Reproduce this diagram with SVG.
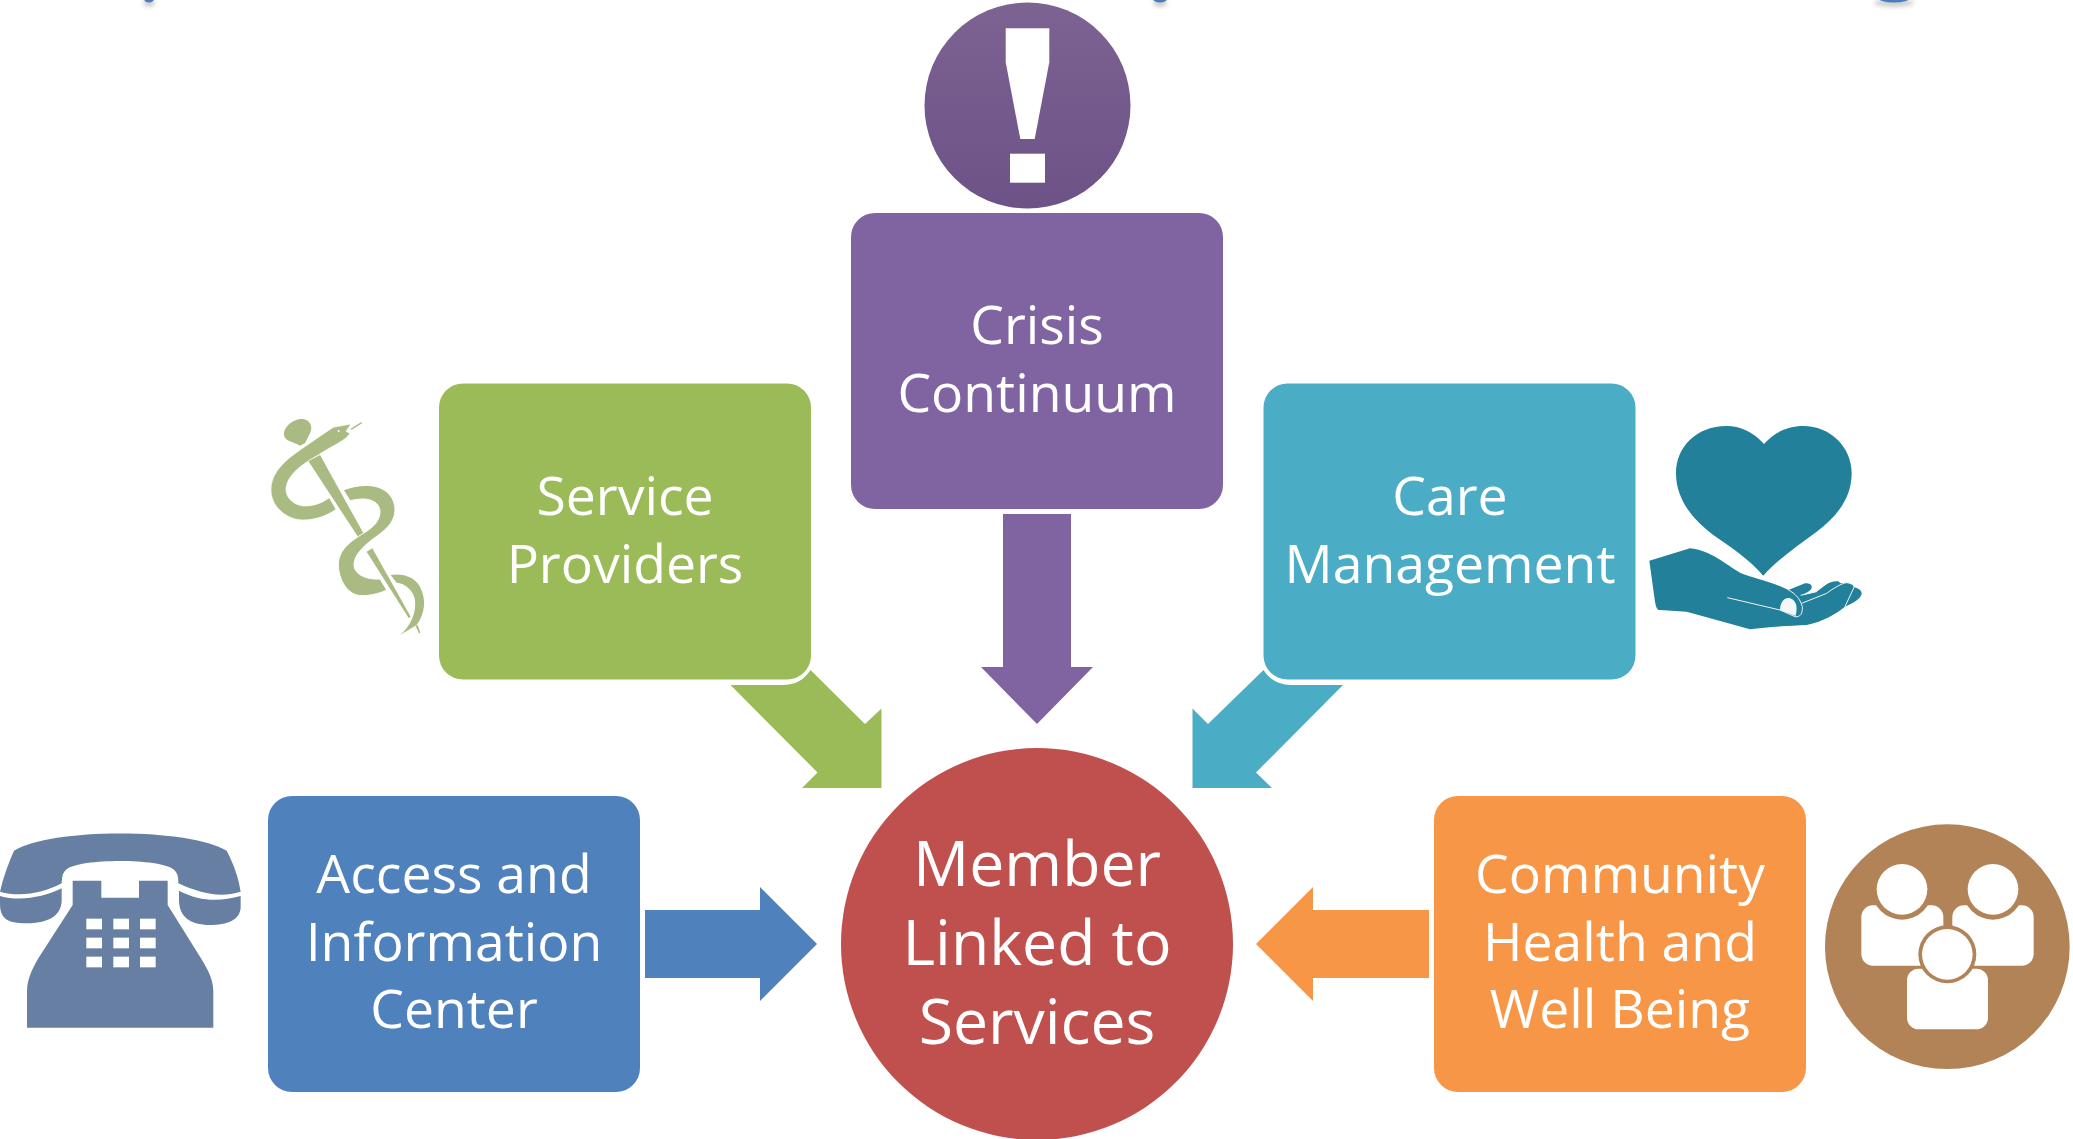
<svg xmlns="http://www.w3.org/2000/svg" width="2073" height="1139" viewBox="0 0 2073 1139">
<style>
.t{font-family:"Open Sans","Noto Sans",sans-serif;font-size:53.500px;fill:#fff;text-anchor:middle}
.c{font-size:62.500px}
.w{fill:#fff}
</style>
<defs>
<linearGradient id="pg" x1="0" y1="0" x2="0" y2="1"><stop offset="0" stop-color="#7c6392"/><stop offset="1" stop-color="#6d5287"/></linearGradient>
<filter id="sh" x="-50%" y="-50%" width="200%" height="300%"><feGaussianBlur stdDeviation="2"/></filter>
</defs>
<rect width="2073" height="1139" fill="#fff"/>
<g id="top-fragments">
<ellipse cx="149" cy="3" rx="6" ry="4" fill="#888" opacity=".4" filter="url(#sh)"/>
<ellipse cx="1160" cy="3" rx="7" ry="4" fill="#888" opacity=".4" filter="url(#sh)"/>
<ellipse cx="1894" cy="3" rx="20" ry="4" fill="#888" opacity=".4" filter="url(#sh)"/>
<ellipse cx="149" cy="-1" rx="5" ry="3.500" fill="#4a7ebb"/>
<ellipse cx="1160" cy="-1" rx="7" ry="3.500" fill="#4a7ebb"/>
<ellipse cx="1894" cy="-3" rx="17" ry="5.500" fill="#4a7ebb"/>
</g>
<g id="connectors">
<path fill="#4f81bd" d="M645,910H760V887L817,944L760,1001V978H645Z"/>
<path fill="#f79646" d="M1429,910H1313V887L1256,944L1313,1001V978H1429Z"/>
<path fill="#8064a2" d="M1003,514H1071V667H1093L1037,724L981,667H1003Z"/>
<path fill="#9bbb59" d="M730.500,685H782.500C795,685 804,680 810.500,670L865,724L881.500,708.500V788H802L817.500,772.500Z"/>
<path fill="#4bacc6" d="M1343,685H1291C1279,685 1270,680 1263.500,670L1208,724L1192.500,708.500V788H1272L1256,772.500Z"/>
</g>
<g id="access"><rect x="268" y="796" width="372" height="296" rx="24" fill="#4f81bd"/>
<text class="t" x="454" y="893">Access and</text><text class="t" x="454" y="960.500">Information</text><text class="t" x="454" y="1028">Center</text></g>
<g id="providers"><rect x="439" y="383.500" width="372" height="296" rx="24" fill="#9bbb59"/>
<text class="t" x="625" y="515">Service</text><text class="t" x="625" y="582.500">Providers</text></g>
<g id="crisis"><rect x="851" y="213" width="372" height="296" rx="24" fill="#8064a2"/>
<text class="t" x="1037" y="344">Crisis</text><text class="t" x="1037" y="411.500">Continuum</text></g>
<g id="care"><rect x="1263.500" y="383.500" width="372" height="296" rx="24" fill="#4bacc6"/>
<text class="t" x="1450" y="515">Care</text><text class="t" x="1450" y="582.500">Management</text></g>
<g id="community"><rect x="1434" y="796" width="372" height="296" rx="24" fill="#f79646"/>
<text class="t" x="1620" y="893">Community</text><text class="t" x="1620" y="960.500">Health and</text><text class="t" x="1620" y="1028">Well Being</text></g>
<g id="member"><circle cx="1037" cy="944" r="196" fill="#c0504d"/>
<text class="t c" x="1037" y="886">Member</text><text class="t c" x="1037" y="965">Linked to</text><text class="t c" x="1037" y="1044">Services</text></g>
<g id="icon-crisis">
<circle cx="1027.500" cy="105.500" r="103" fill="url(#pg)"/>
<path class="w" d="M1005.700,28.300H1049.300V62.300L1034.700,139H1020.300L1005.700,62.300Z"/>
<rect class="w" x="1010" y="153.700" width="35" height="29"/>
</g>
<g id="icon-caduceus" transform="translate(250,400) scale(.33333)" fill="#a9bb82">
<path d="M303,88L335,68" stroke="#a9bb82" stroke-width="4" fill="none"/>
<path d="M150,137C130,125 105,125 102,105C100,80 130,55 160,57C180,60 190,80 180,100L165,130Z"/>
<path d="M175,183L210,165L342,403L325,412Z"/>
<path d="M350,455L367,445L482,650L476,654Z"/>
<path d="M497,678L503,675L511,698L507,700Z"/>
<path d="M303,72L250,82L230,95L150,150C100,185 63,220 63,270C63,320 110,360 160,360C200,360 235,345 258,328L238,293C215,310 190,318 165,318C135,318 108,295 108,270C108,225 160,190 205,165C240,140 285,125 300,100L288,94Z" stroke="#fff" stroke-width="2"/>
<path d="M280,270C310,258 340,255 360,257C405,260 435,290 435,330C435,370 400,395 365,420C340,440 312,465 312,495C312,520 345,540 390,537L410,570C380,585 340,590 320,585C285,575 265,530 265,495C265,450 300,425 340,400C365,385 390,365 390,335C390,310 365,297 340,297C325,297 310,300 300,302Z" stroke="#fff" stroke-width="3"/>
<path d="M422,525C450,520 490,525 510,560C530,600 525,640 500,675L450,705C480,680 500,640 495,600C490,570 465,550 440,548Z"/>
<circle class="w" cx="266" cy="93" r="3"/>
</g>
<g id="icon-care" transform="translate(1630,410) scale(.33333)">
<path fill="#22809a" d="M402,102C370,65 330,48 290,48C200,48 138,110 138,190C138,270 190,330 250,375C300,410 360,450 400,497C440,450 500,410 560,365C620,320 665,265 665,190C665,110 600,48 520,48C470,48 430,70 402,102Z"/>
<path fill="#22809a" d="M58,452L180,415C240,420 290,465 330,488C370,505 420,512 475,540L525,520C550,520 550,535 535,545L515,556L560,545C580,530 600,510 625,514L632,520L650,518C665,520 672,525 672,532C690,535 695,545 695,550C695,565 670,580 645,590C620,610 580,635 530,645C480,648 410,650 360,658L170,605L90,600C80,600 78,590 75,575Z"/>
<path fill="none" stroke="#eef5f7" stroke-width="3" d="M292,563L450,600L495,620C510,622 518,612 517,590C510,565 495,550 475,540M515,580L590,550C610,535 635,520 650,518C665,520 672,525 672,532L645,590M512,556L560,545"/>
<path fill="#f2f8f8" d="M450,600C450,580 460,562 478,564C495,568 505,585 497,618Z"/>
</g>
<g id="icon-phone" transform="translate(0,810) scale(.33333)" fill="#677fa3">
<path d="M42,122C150,53 570,53 680,122C700,160 715,200 722,245C660,265 600,250 535,220C535,205 535,190 520,178C480,145 240,145 200,178C185,190 187,205 185,220C130,250 60,262 0,245C10,200 25,160 42,122Z"/>
<path d="M0,258C60,275 130,262 185,235V270C185,320 140,340 80,340C20,340 0,325 0,280Z"/>
<path d="M537,242C600,275 660,275 722,258V290C722,330 680,345 630,345C570,345 537,320 537,270Z"/>
<path d="M218,212H304V263H417V212H503V285L600,440C625,480 640,510 640,545V653H81V545C81,510 95,480 115,445L218,285Z"/>
<g class="w">
<rect x="259" y="326" width="47" height="32"/><rect x="340" y="326" width="47" height="32"/><rect x="420" y="326" width="47" height="32"/>
<rect x="259" y="383" width="47" height="32"/><rect x="340" y="383" width="47" height="32"/><rect x="420" y="383" width="47" height="32"/>
<rect x="259" y="440" width="47" height="32"/><rect x="340" y="440" width="47" height="32"/><rect x="420" y="440" width="47" height="32"/>
</g>
</g>
<g id="icon-community" transform="translate(1810,810) scale(.33333)">
<circle cx="412" cy="410" r="367" fill="#b18357"/>
<g class="w">
<rect x="154" y="286" width="246" height="181" rx="35"/>
<rect x="427" y="286" width="244" height="181" rx="35"/>
<rect x="291" y="476" width="243" height="182" rx="35"/>
</g>
<circle cx="276" cy="238" r="91" fill="#b18357"/><circle cx="549" cy="238" r="91" fill="#b18357"/>
<circle class="w" cx="276" cy="238" r="76"/><circle class="w" cx="549" cy="238" r="76"/>
<circle cx="412" cy="433" r="87" fill="#b18357"/><circle class="w" cx="412" cy="433" r="76"/>
</g>
</svg>
